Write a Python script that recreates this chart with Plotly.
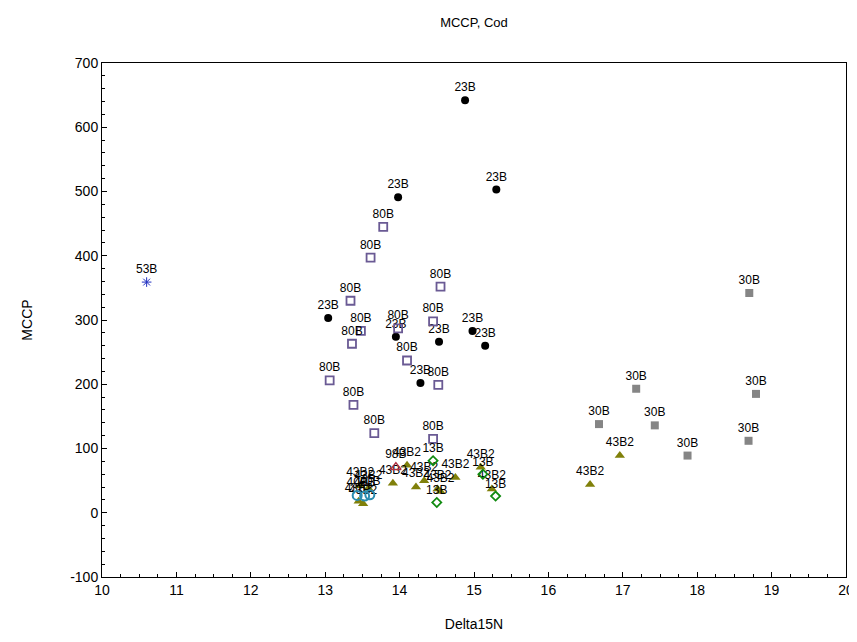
import plotly.graph_objects as go

# ---- data ----
x_23B = [14.88, 13.98, 15.30, 13.04, 14.98, 13.95, 14.53, 15.15, 14.28]
y_23B = [642, 491, 503, 303, 283, 274, 266, 260, 202]

x_80B = [13.78, 13.61, 14.55, 13.34, 13.48, 13.98, 14.45, 13.36, 14.10, 13.06, 14.52, 13.38, 13.66, 14.45]
y_80B = [445, 397, 352, 330, 283, 287, 298, 263, 237, 206, 199, 168, 124, 115]

x_30B = [18.70, 17.18, 18.79, 16.68, 17.43, 18.69, 17.87]
y_30B = [342, 193, 185, 138, 136, 112, 89]

x_43B2 = [16.96, 16.56, 14.10, 13.91, 14.22, 14.33, 14.51, 14.55, 14.75, 15.09, 15.24,
          13.45, 13.51, 13.47, 13.58]
y_43B2 = [89, 44, 74, 46, 40, 50, 37, 33, 55, 71, 37,
          18, 14, 42, 38]

x_13B = [14.45, 14.50, 15.12, 15.29]
y_13B = [81, 16, 60, 26]

x_98B = [13.95]
y_98B = [71]

x_53B = [10.60]
y_53B = [359]

x_40B = [13.43, 13.53, 13.60]
y_40B = [27, 26, 28]

y_tickvals = [-100, 0, 100, 200, 300, 400, 500, 600, 700]
y_ticktext = ["-100", "0", "100", "200", "300", "400", "500", "600", "700"]
x_tickvals = [10, 11, 12, 13, 14, 15, 16, 17, 18, 19, 20]
x_ticktext = ["10", "11", "12", "13", "14", "15", "16", "17", "18", "19", "20"]

series = [
    ("23B", x_23B, y_23B, dict(symbol="circle", size=8, color="black", line=dict(width=0))),
    ("80B", x_80B, y_80B, dict(symbol="square-open", size=8, color="#6a5a94", line=dict(width=1.8, color="#6a5a94"))),
    ("30B", x_30B, y_30B, dict(symbol="square", size=8, color="#858585", line=dict(width=0))),
    ("43B2", x_43B2, y_43B2, dict(symbol="triangle-up", size=9, color="#80800a", line=dict(width=0))),
    ("13B", x_13B, y_13B, dict(symbol="diamond-open", size=7, color="#108a10", line=dict(width=1.8, color="#108a10"))),
    ("98B", x_98B, y_98B, dict(symbol="triangle-up-open", size=9, color="#b03040", line=dict(width=1.5, color="#b03040"))),
    ("53B", x_53B, y_53B, dict(symbol="asterisk-open", size=8, color="#2030c0", line=dict(width=1, color="#2030c0"))),
    ("40B", x_40B, y_40B, dict(symbol="circle-open", size=9, color="#2a8cb0", line=dict(width=2, color="#2a8cb0"))),
]

FONT = "Arial, Liberation Sans, sans-serif"

fig = go.Figure()
for name, xs, ys, mk in series:
    fig.add_trace(go.Scatter(
        x=xs, y=ys, mode="markers+text", name=name,
        text=[name] * len(xs), textposition="top center",
        textfont=dict(family=FONT, size=12, color="black"),
        marker=mk, cliponaxis=False,
    ))

axis_common = dict(
    showline=True, linecolor="black", linewidth=1, mirror=True,
    ticks="inside", ticklen=5, tickcolor="black", tickwidth=1,
    showgrid=False, zeroline=False,
    tickfont=dict(family=FONT, size=14, color="black"),
)

fig.update_layout(
    width=857, height=642,
    margin=dict(l=94, r=11, t=55, b=73),
    paper_bgcolor="white", plot_bgcolor="white",
    showlegend=False,
    title=dict(text="MCCP, Cod", xref="paper", x=0.5, xanchor="center", y=0.977, yanchor="middle",
               font=dict(family=FONT, size=13, color="black")),
    xaxis=dict(range=[10, 20], tickmode="array", tickvals=x_tickvals, ticktext=x_ticktext,
               minor=dict(ticks="inside", ticklen=3, dtick=0.25, tickcolor="black"),
               title=dict(text="Delta15N", font=dict(family=FONT, size=14, color="black"), standoff=22),
               **axis_common),
    yaxis=dict(range=[-100, 700], tickmode="array", tickvals=y_tickvals, ticktext=y_ticktext,
               minor=dict(ticks="inside", ticklen=3, dtick=20, tickcolor="black"),
               title=dict(text="MCCP", font=dict(family=FONT, size=14, color="black"), standoff=34),
               **axis_common),
)

fig.write_html("out.html")
